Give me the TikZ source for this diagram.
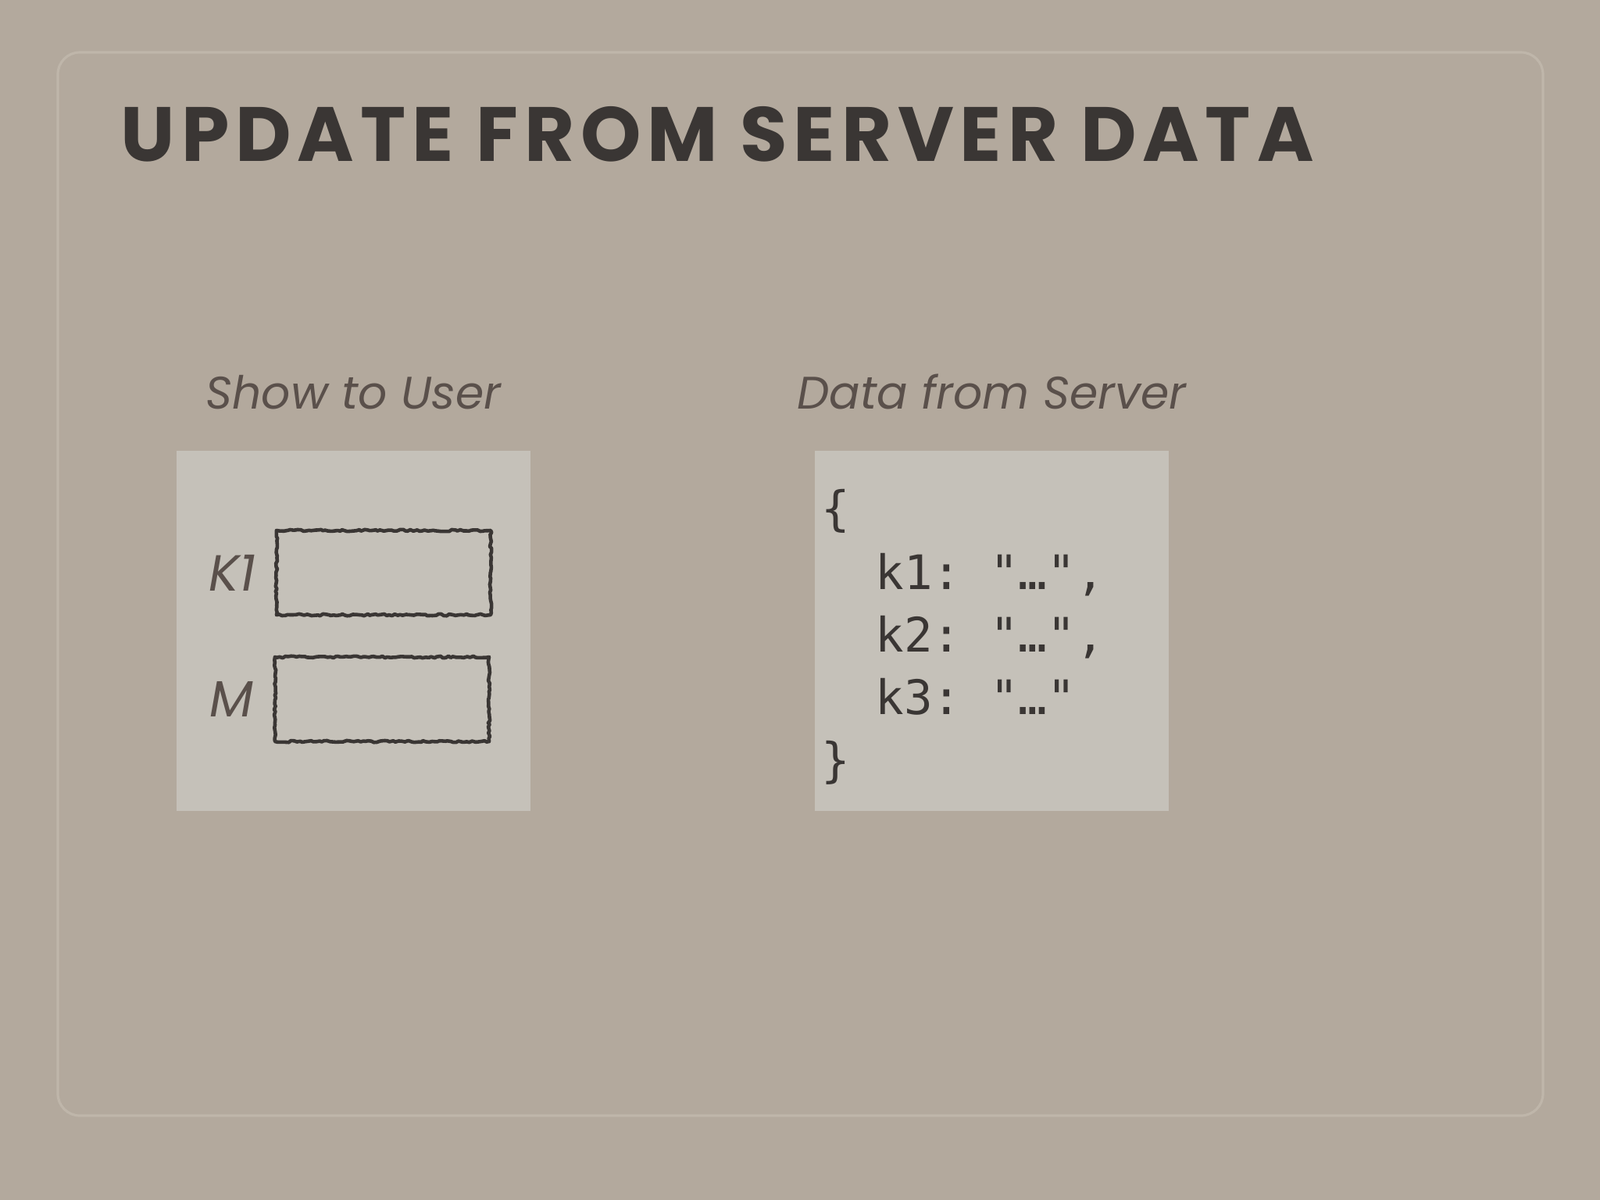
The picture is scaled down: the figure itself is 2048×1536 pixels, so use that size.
\documentclass[tikz,border=0pt]{standalone}
\usepackage{fontspec}
\setmainfont{Poppins}
\setmonofont{DejaVu Sans Mono}
\newfontfamily\titlefont[LetterSpace=8.0]{Poppins Bold}
\usetikzlibrary{positioning,decorations.pathmorphing}
\definecolor{cardboard}{HTML}{B3A99D}
\definecolor{rimlight}{HTML}{BFB6AA}
\definecolor{boxgrey}{HTML}{C5C1B9}
\definecolor{ink}{HTML}{3A3634}
\definecolor{softink}{HTML}{5A504B}
\tikzset{every picture/.style={
  line join=round               % soft corners everywhere.
  }
}

\begin{document}
\begin{tikzpicture}[x=0.01cm,y=-0.01cm,
        card/.style={
          rectangle,
          fill=boxgrey,
          minimum width=4.53cm,
          minimum height=4.61cm,
          inner sep=0pt,
          node distance=3.62cm,
        },
        caption/.style={
          inner sep=0pt,
          text=softink,
          font=\fontsize{16.6}{19}\selectfont\itshape,
          node distance=0.51cm,
        },
        field/.style={
          rectangle,
          minimum width=2.74cm,
          minimum height=1.08cm,
          draw=ink,
          line width=1.3pt,
          decorate,
          decoration={random steps,segment length=1pt,amplitude=0.35pt},
        },
        fieldname/.style={
          inner sep=0pt,
          text=softink,
          font=\fontsize{18.5}{21}\selectfont\itshape,
          node distance=0.24cm,
        },
        code/.style={
          inner sep=0pt,
          anchor=base west,
          text=ink,
          font=\ttfamily\fontsize{17.3}{22}\selectfont,
        }]
      \useasboundingbox[fill=cardboard] (0,0) rectangle (2048,1536);
      \draw[rimlight,line width=0.9pt,rounded corners=8pt] (74,67) rectangle (1975,1428);
      \node[inner sep=0pt,anchor=base west,text=ink,
        font=\titlefont\fontsize{28}{32}\selectfont] (title) at (154,206)
        {UPDATE FROM SERVER DATA};
      % the two cards
      \node[card] (user) at (452.5,807.5) {};
      \node[card] (server) [right=of user] {};
      \node[caption,above=of user] (usercap) {Show to User};
      \node[caption,above=of server] (servercap) {Data from Server};
      % input fields on the left card
      \node[field] (k1box) at (491,733) {};
      \node[field] (mbox) at (489,895) {};
      \node[fieldname,left=of k1box] (k1name) {K1};
      \node[fieldname,left=of mbox] (mname) {M};
      % json on the right card
      \node[code] (open) at (1051,672) {\{};
      \node[code] (k1line) at (1120,754) {k1: "…",};
      \node[code] (k2line) at (1120,834) {k2: "…",};
      \node[code] (k3line) at (1120,914) {k3: "…"};
      \node[code] (close) at (1051,994) {\}};
\end{tikzpicture}
\end{document}
